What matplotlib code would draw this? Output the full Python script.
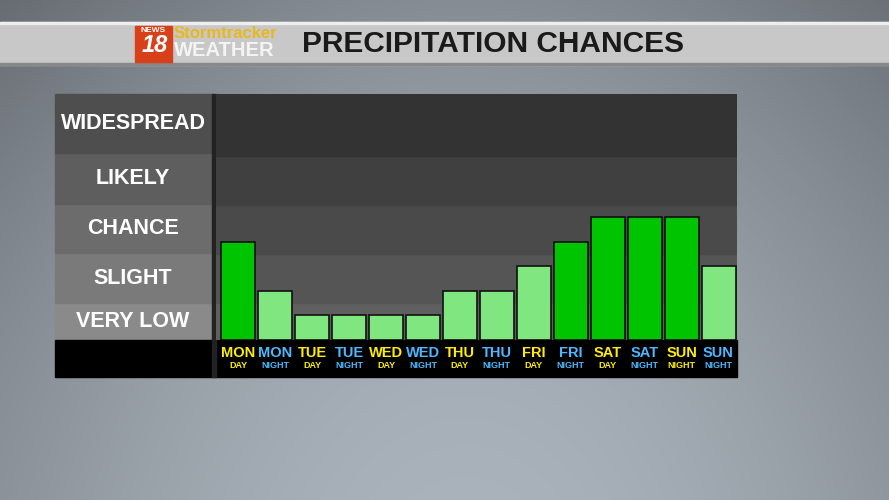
import matplotlib
matplotlib.use("Agg")
import matplotlib.pyplot as plt
import numpy as np
from matplotlib.patches import Rectangle

plt.rcParams['font.family'] = ['Liberation Sans', 'DejaVu Sans']

days = ["MON","MON","TUE","TUE","WED","WED","THU","THU","FRI","FRI","SAT","SAT","SUN","SUN"]
parts = ["DAY","NIGHT","DAY","NIGHT","DAY","NIGHT","DAY","NIGHT","DAY","NIGHT","DAY","NIGHT","NIGHT","NIGHT"]
part_colors = ["y","b","y","b","y","b","y","b","y","b","y","b","y","b"]
levels = [4,2,1,1,1,1,2,2,3,4,5,5,5,3]
categories = ["VERY LOW","SLIGHT","CHANCE","LIKELY","WIDESPREAD"]
band_edges = [0,1.5,3.5,5.5,7.5,10]

W,H = 889,500
fig = plt.figure(figsize=(W/100,H/100), dpi=100)

def fx(x): return x/W
def fy(y): return 1-y/H

bg = fig.add_axes([0,0,1,1]); bg.set_axis_off()
yy = np.linspace(0,1,200)[:,None]; xx = np.linspace(0,1,300)[None,:]
img = 0.45 + 0.25*np.sin(xx*3)*0.5 + 0.15*yy - 0.1*(yy-0.5)**2
rgb = np.dstack([img*0.95, img, img*1.05]).clip(0,1)
bg.imshow(rgb, extent=[0,1,0,1], aspect='auto', origin='upper')
bg.set_xlim(0,1); bg.set_ylim(0,1)

def rect(x0,y0,x1,y1,color,z=1,**kw):
    fig.patches.append(Rectangle((fx(x0),fy(y1)),fx(x1-x0),(y1-y0)/H,transform=fig.transFigure,color=color,zorder=z,**kw))

rect(0,22,W,65,"#c8c8c8",z=2)
rect(0,22,W,24,"#eeeeee",z=2)
rect(0,63,W,65,"#888888",z=2)
rect(135,26,172,62,"#d8401a",z=3)
fig.text(fx(153),fy(31),"NEWS",color="white",fontsize=6,fontweight="bold",ha="center",va="center",zorder=4)
fig.text(fx(155),fy(46),"18",color="white",fontsize=17,fontweight="bold",ha="center",va="center",style="italic",zorder=4)
fig.text(fx(174),fy(33),"Stormtracker",color="#e8b820",fontsize=12,fontweight="bold",ha="left",va="center",zorder=4)
fig.text(fx(174),fy(50),"WEATHER",color="#f4f4f4",fontsize=14.5,fontweight="bold",ha="left",va="center",zorder=4)
fig.text(fx(302),fy(44),"PRECIPITATION CHANCES",color="#1a1a1a",fontsize=21.5,fontweight="bold",ha="left",va="center",zorder=4)

left_bounds = [(303,340),(253,303),(204,253),(153,204),(94,153)]
left_cols = ["#8a8a8a","#7a7a7a","#6c6c6c","#5e5e5e","#4e4e4e"]
for (y0,y1),c,lab in zip(left_bounds,left_cols,categories):
    rect(55,y0,212,y1,c,z=2)
    fig.text(fx(133),fy((y0+y1)/2),lab,color="white",fontsize=15.5,fontweight="bold",ha="center",va="center",zorder=4)
rect(55,340,737,377,"#000000",z=2)
rect(212,94,216,377,"#222222",z=2)

ax = fig.add_axes([fx(216),fy(340),fx(737-216),(340-94)/H])
ax.set_zorder(3)
band_cols = ["#5f5f5f","#555555","#4a4a4a","#404040","#333333"]
for i,c in enumerate(band_cols):
    ax.axhspan(band_edges[i],band_edges[i+1],color=c,zorder=0)
x = np.arange(len(levels))
cols = ["#00c400" if v>=4 else "#80e680" for v in levels]
ax.bar(x,levels,width=0.92,color=cols,edgecolor="#111111",linewidth=1.2,zorder=2)
ax.set_xlim(-0.6,len(levels)-0.5); ax.set_ylim(0,10)
ax.set_axis_off()

cmap = {"y":"#ffee00","b":"#4db8ff"}
for i,(d,p,c) in enumerate(zip(days,parts,part_colors)):
    xc = ax.transData.transform((i,0))[0]
    fig.text(xc/W,fy(353),d,color=cmap[c],fontsize=10.5,fontweight="bold",ha="center",va="center",zorder=5)
    fig.text(xc/W,fy(365),p,color=cmap[c],fontsize=6.5,fontweight="bold",ha="center",va="center",zorder=5)

fig.savefig("out.png",dpi=100)
